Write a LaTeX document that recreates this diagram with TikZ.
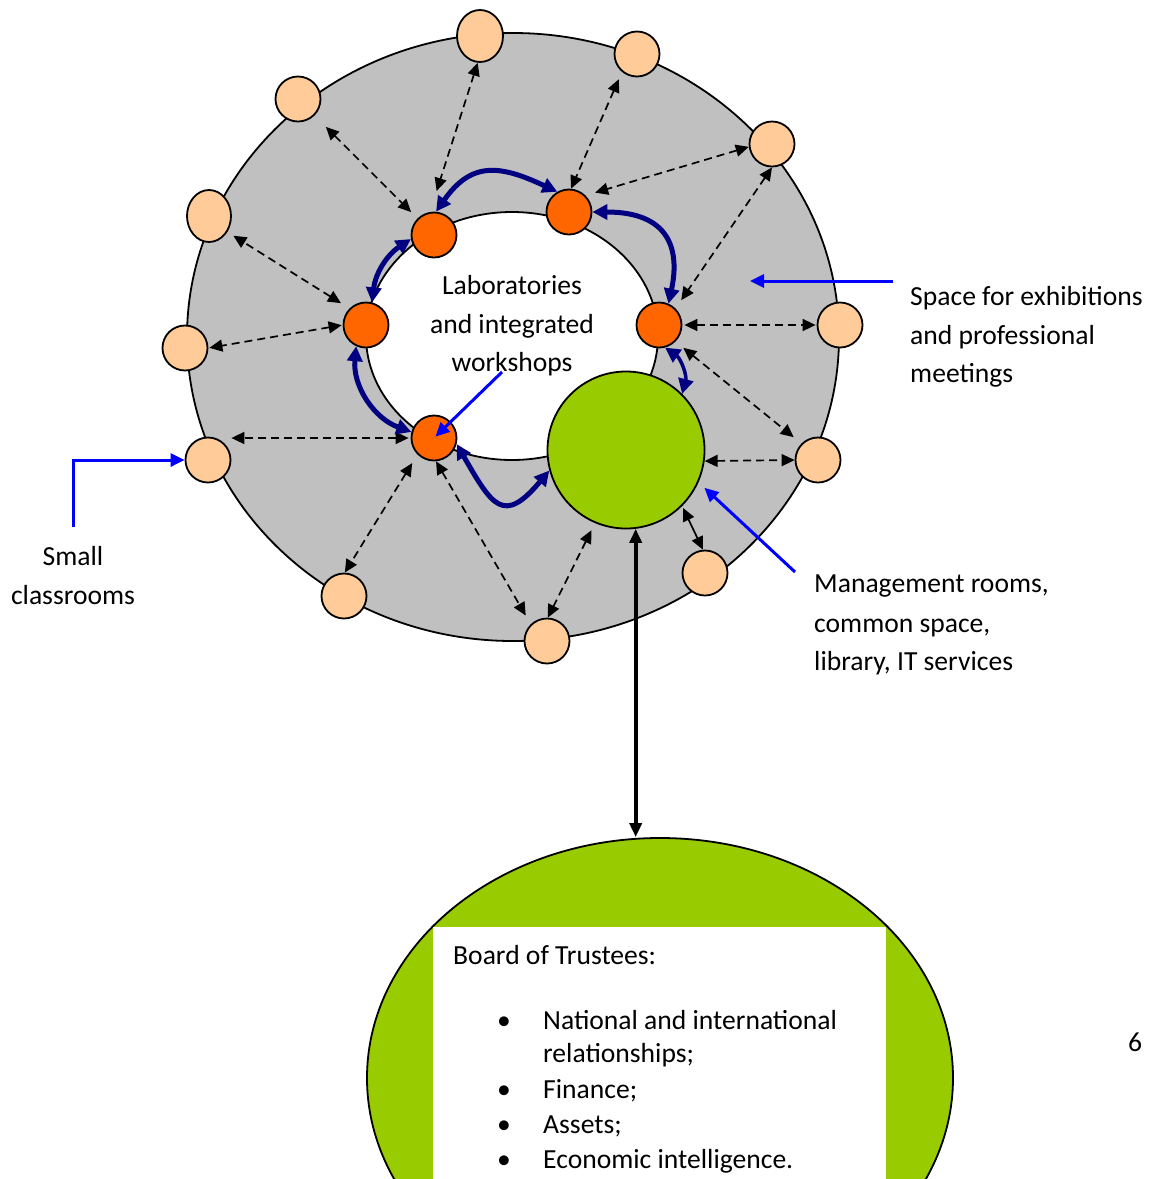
\documentclass[tikz,border=0pt]{standalone}
\usepackage{fontspec}
\setmainfont{Carlito}
\usetikzlibrary{arrows.meta,shapes.geometric,calc}
\definecolor{ringgray}{RGB}{192,192,192}
\definecolor{peachc}{RGB}{255,204,153}
\definecolor{orangec}{RGB}{255,102,0}
\definecolor{greenc}{RGB}{153,204,0}
\definecolor{navyc}{RGB}{0,0,128}
\definecolor{bluec}{RGB}{0,0,255}
\begin{document}
\begin{tikzpicture}[x=1pt,y=-1pt,
  txt/.style={font=\fontsize{27.6}{39}\selectfont, inner sep=0pt},
  peach/.style={ellipse, draw=black, line width=1.8pt, fill=peachc, minimum width=45pt, minimum height=45pt, inner sep=0pt},
  orng/.style={circle, draw=black, line width=1.8pt, fill=orangec, minimum size=45pt, inner sep=0pt},
  da/.style={draw=black, line width=1.7pt, dash pattern=on 8pt off 5pt, {Triangle[length=13pt,width=12pt]}-{Triangle[length=13pt,width=12pt]}},
  nv/.style={draw=navyc, line width=5pt, {Triangle[length=15pt,width=15pt]}-{Triangle[length=15pt,width=15pt]}},
  bl/.style={draw=bluec, line width=3pt, -{Triangle[length=14pt,width=13pt]}},
]
\useasboundingbox (0,0) rectangle (1151,1179);
\clip (0,0) rectangle (1151,1179);

% ring
\node[ellipse, draw=black, line width=1.8pt, fill=ringgray, minimum width=652pt, minimum height=608pt, inner sep=0pt] (outer) at (513,337) {};
\node[ellipse, draw=black, line width=1.8pt, fill=white, minimum width=292pt, minimum height=248pt, inner sep=0pt] (inner) at (512,336) {};

\node[txt, anchor=base] (lab1) at (512,294) {Laboratories};
\node[txt, anchor=base] (lab2) at (512,333) {and integrated};
\node[txt, anchor=base] (lab3) at (512,371) {workshops};

% peach classrooms
\node[peach, minimum width=46pt, minimum height=52pt] (p1) at (480,36) {};
\node[peach] (p2) at (637,54) {};
\node[peach] (p3) at (772,144) {};
\node[peach] (p4) at (840,325) {};
\node[peach] (p5) at (818,460) {};
\node[peach] (p6) at (705,573) {};
\node[peach] (p7) at (547,641) {};
\node[peach] (p8) at (344,596) {};
\node[peach] (p9) at (208,460) {};
\node[peach] (p10) at (185,348) {};
\node[peach, minimum width=44pt, minimum height=52pt] (p11) at (209,216) {};
\node[peach] (p12) at (298,99) {};

% orange labs
\node[orng] (o1) at (434,235) {};
\node[orng] (o2) at (569,212) {};
\node[orng] (o3) at (366,325) {};
\node[orng] (o4) at (659,325) {};
\node[orng] (o5) at (434,438) {};

% green management
\node[circle, draw=black, line width=1.8pt, fill=greenc, minimum size=157pt, inner sep=0pt] (g) at (626,450) {};

% dashed links
\draw[da, shorten <=16pt, shorten >=9pt] (p12) -- (o1);
\draw[da, shorten >=22pt] (p1.-95) -- (o1.100);
\draw[da, shorten <=8pt] (p2.-130) -- (o2.85);
\draw[da, shorten >=10pt] (p3.187) -- (o2.45);
\draw[da, shorten >=10pt] (p3.-90) -- (o4.45);
\draw[da, shorten <=2pt, shorten >=1pt] (o4.east) -- (p4.west);
\draw[da, shorten <=10pt, shorten >=10pt] (o4.-45) -- (p5.135);
\draw[da] (g.-8) -- (p5.west);
\draw[da, solid, shorten <=2pt] (g.-45) -- (p6.95);
\draw[da, shorten <=8pt] (g.-113) -- (p7.88);
\draw[da, shorten >=10pt] (o5.-85) -- (p7.134);
\draw[da, shorten <=10pt] (o5.-135) -- (p8.88);
\draw[da, shorten <=2pt] (o5.west) -- (o5.west -| p9.east);
\draw[da, shorten <=1pt, shorten >=1pt] (o3.west) -- (p10.east);
\draw[da, shorten <=10pt, shorten >=7pt] (o3.135) -- (p11.-41);

% navy links between labs
\draw[nv] (o1.85) to[out=55,in=155,looseness=1.3] (o2.120);
\draw[nv] (o2.east) .. controls (670,212) and (680,250) .. (o4.66);
\draw[nv] (o1.190) to[bend right=25] (o3.75);
\draw[nv] (o3.-115) to[out=-95,in=160] (o5.165);
\draw[nv] (o5.-15) to[out=-60,in=-130,looseness=1.9] (g.195);
\draw[nv, line width=3.5pt] (o4.-75) to[bend left=35] (g.45);

% annotations
\coordinate (wsA) at (502,372);
\draw[bl, shorten >=2pt] (wsA) -- (o5.center);
\coordinate (scA) at (73,527);
\draw[bl] (scA) |- (p9.west);
\coordinate (spA) at (893,281);
\coordinate (spB) at (750,281);
\draw[bl] (spA) -- (spB);
\coordinate (mgA) at (795,572);
\draw[bl, shorten >=8pt] (mgA) -- (g.-24);

\node[txt, anchor=base] (sc1) at (73,565) {Small};
\node[txt, anchor=base] (sc2) at (73,604) {classrooms};
\node[txt, anchor=base west] (sp1) at (910,305) {Space for exhibitions};
\node[txt, anchor=base west] (sp2) at (910,344) {and professional};
\node[txt, anchor=base west] (sp3) at (910,382) {meetings};
\node[txt, anchor=base west] (mg1) at (814,592) {Management rooms,};
\node[txt, anchor=base west] (mg2) at (814,632) {common space,};
\node[txt, anchor=base west] (mg3) at (814,670) {library, IT services};

% board of trustees
\node[ellipse, draw=black, line width=1.8pt, fill=greenc, minimum width=586pt, minimum height=480pt, inner sep=0pt] (bot) at (660,1078) {};
\node[fill=white, anchor=north west, minimum width=453pt, minimum height=280pt, inner sep=0pt] (box) at (433,927) {};
\draw[line width=4pt, {Triangle[length=14pt,width=12pt]}-{Triangle[length=14pt,width=12pt]}] (g.-83) -- (g.-83 |- bot.north);

\node[txt, anchor=base west] (bt0) at (453,964) {Board of Trustees:};
\node[txt, anchor=base] (b1) at (504,1029) {\textbullet};
\node[txt, anchor=base west] (bt1) at (543,1029) {National and international};
\node[txt, anchor=base west] (bt1b) at (543,1062) {relationships;};
\node[txt, anchor=base] (b2) at (504,1098) {\textbullet};
\node[txt, anchor=base west] (bt2) at (543,1098) {Finance;};
\node[txt, anchor=base] (b3) at (504,1133) {\textbullet};
\node[txt, anchor=base west] (bt3) at (543,1133) {Assets;};
\node[txt, anchor=base] (b4) at (504,1168) {\textbullet};
\node[txt, anchor=base west] (bt4) at (543,1168) {Economic intelligence.};

\node[txt, anchor=base] (pg) at (1135,1051) {6};
\end{tikzpicture}
\end{document}
